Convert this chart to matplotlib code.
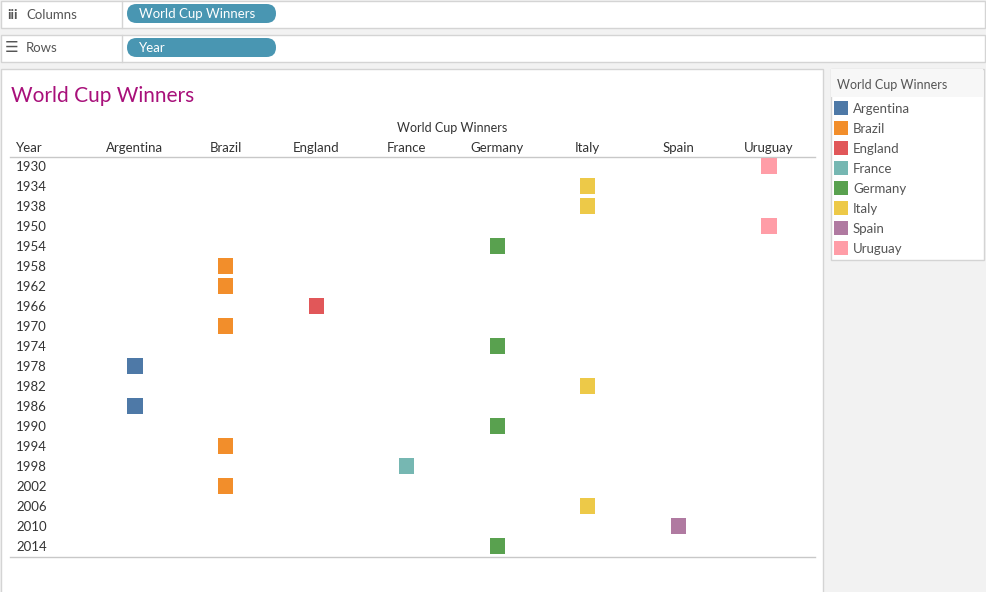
import matplotlib.pyplot as plt
from matplotlib.patches import Rectangle, FancyBboxPatch
import matplotlib.transforms as mtransforms

# data
countries = ["Argentina", "Brazil", "England", "France", "Germany", "Italy", "Spain", "Uruguay"]
colors = ["#4e79a7", "#f28e2b", "#e15759", "#76b7b2", "#59a14f", "#edc948", "#b07aa1", "#ff9da7"]
years = [1930, 1934, 1938, 1950, 1954, 1958, 1962, 1966, 1970, 1974, 1978,
         1982, 1986, 1990, 1994, 1998, 2002, 2006, 2010, 2014]
winners = ["Uruguay", "Italy", "Italy", "Uruguay", "Germany", "Brazil", "Brazil", "England",
           "Brazil", "Germany", "Argentina", "Italy", "Argentina", "Germany", "Brazil",
           "France", "Brazil", "Italy", "Spain", "Germany"]

W, H = 986, 592
plt.rcParams['font.family'] = ['Lato', 'DejaVu Sans']
fig = plt.figure(figsize=(W / 100, H / 100), dpi=100)
fig.patch.set_facecolor("#f2f2f2")

# full-figure pixel axes for the frame pieces
bg = fig.add_axes([0, 0, 1, 1])
bg.set_xlim(0, W)
bg.set_ylim(H, 0)
bg.axis("off")

def box(x, y, w, h, fc="white", ec="#d4d4d4", lw=1):
    bg.add_patch(Rectangle((x, y), w, h, facecolor=fc, edgecolor=ec, linewidth=lw))

def pill(x, y, w, h, label):
    bg.add_patch(FancyBboxPatch((x, y), w, h,
                                boxstyle="round,pad=0,rounding_size=%g" % (h / 2),
                                facecolor="#4996b2", edgecolor="none"))
    bg.text(x + 12, y + h / 2 + 1, label, color="white", fontsize=9.5, va="center")

# shelves
box(0.5, 0.5, 984, 27)
box(0.5, 34.5, 984, 27)
bg.plot([122, 122], [0.5, 27.5], color="#d4d4d4", lw=1)
bg.plot([122, 122], [34.5, 61.5], color="#d4d4d4", lw=1)
bg.text(7, 15, "iii", color="#555555", fontsize=10, va="center", fontweight="bold")
bg.text(26, 15, "Columns", color="#555555", fontsize=9.5, va="center")
bg.text(5, 48, "\u2630", color="#555555", fontsize=11, va="center", family="DejaVu Sans")
bg.text(26, 48, "Rows", color="#555555", fontsize=9.5, va="center")
pill(127, 4, 149, 19, "World Cup Winners")
pill(127, 38, 149, 19, "Year")

# main panel
box(0.5, 68.5, 822, 524)
bg.text(11, 96, "World Cup Winners", color="#a8107a", fontsize=15, va="center")
bg.text(452, 128, "World Cup Winners", color="#333333", fontsize=9, va="center", ha="center")
bg.text(16, 148, "Year", color="#333333", fontsize=9.5, va="center")
bg.plot([10, 815], [156.5, 156.5], color="#c8c8c8", lw=1)
bg.plot([10, 815], [556.5, 556.5], color="#c8c8c8", lw=1)

# legend
box(830.5, 68.5, 153, 191)
bg.add_patch(Rectangle((831, 69), 152, 28, facecolor="#f7f7f7", edgecolor="none"))
bg.text(837, 85, "World Cup Winners", color="#555555", fontsize=9, va="center")
for i, (c, col) in enumerate(zip(countries, colors)):
    yy = 108 + 20 * i
    bg.add_patch(Rectangle((834, yy - 7), 14, 14, facecolor=col, edgecolor="none"))
    bg.text(853, yy + 1, c, color="#555555", fontsize=9.5, va="center")

# data axes: columns = countries, rows = years
colw = (769 - 135) / 7
left, right = 135 - colw / 2, 769 + colw / 2
ax = fig.add_axes([left / W, 1 - 556 / H, (right - left) / W, 400 / H])
ax.set_xlim(-0.5, len(countries) - 0.5)
ax.set_ylim(len(years) - 0.5, -0.5)
ax.axis("off")

xs = [countries.index(w) for w in winners]
ys = list(range(len(years)))
cs = [colors[countries.index(w)] for w in winners]
ax.scatter(xs, ys, c=cs, marker="s", s=118, linewidths=0)

trans = mtransforms.blended_transform_factory(bg.transData, ax.transData)
for i, y in enumerate(years):
    ax.text(16, i + 0.05, str(y), transform=trans, color="#333333", fontsize=9.5, va="center")

trans2 = mtransforms.blended_transform_factory(ax.transData, bg.transData)
for i, c in enumerate(countries):
    ax.text(i, 148, c, transform=trans2, color="#333333", fontsize=9.5, va="center", ha="center")

fig.savefig("out.png", dpi=100, facecolor=fig.get_facecolor())
